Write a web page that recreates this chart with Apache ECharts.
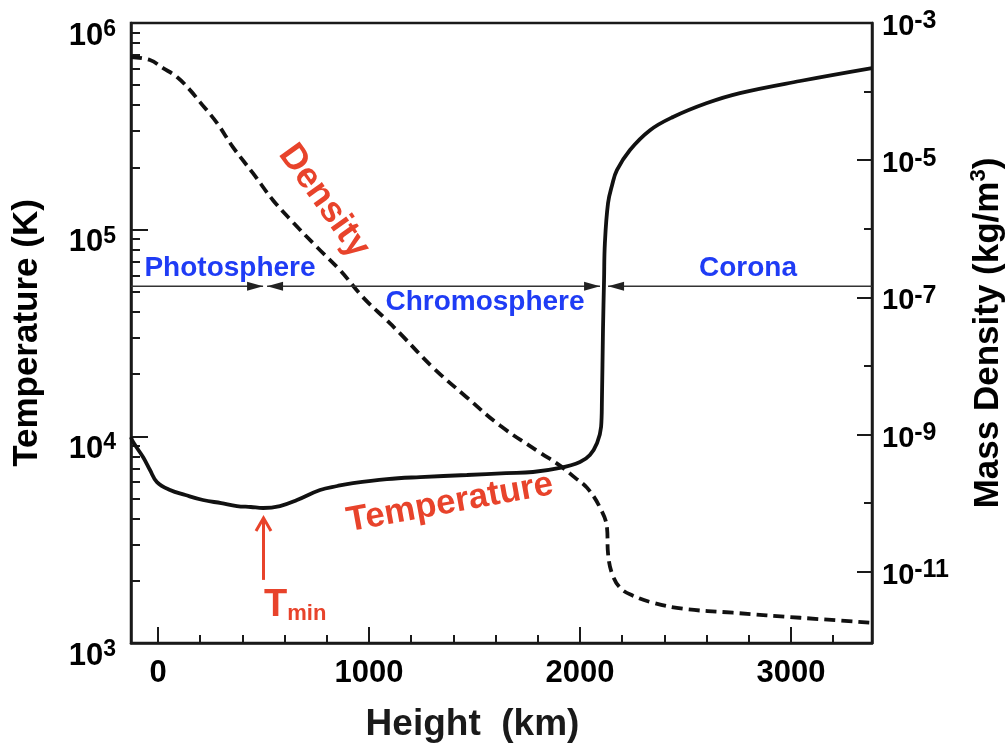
<!DOCTYPE html>
<html><head><meta charset="utf-8">
<script src="https://cdn.jsdelivr.net/npm/echarts@6/dist/echarts.min.js"></script>
<style>html,body{margin:0;padding:0;background:#fff}#c{width:1008px;height:749px}</style>
</head><body><div id="c"></div>
<script>
// ---------------- data ----------------
const heightT = [-128, -118, -71, -38, -5, 57, 130, 213, 300, 374, 440, 498, 578, 659, 768, 850, 924, 1085, 1242, 1464, 1650, 1777, 1905, 2000, 2047, 2081, 2100, 2104, 2109, 2114, 2118, 2133, 2152, 2175, 2237, 2332, 2441, 2602, 2758, 3043, 3384];
const tempK = [9900, 9380, 7940, 6870, 6010, 5500, 5200, 4920, 4750, 4600, 4550, 4500, 4600, 4920, 5500, 5750, 5940, 6210, 6350, 6500, 6640, 6720, 7030, 7520, 8130, 9290, 11100, 15000, 32700, 57000, 86000, 134500, 164000, 194000, 243000, 303000, 351000, 410000, 458000, 524000, 605000];

const heightRho = [-128, -38, 24, 90, 152, 199, 280, 355, 450, 545, 640, 754, 863, 972, 1085, 1147, 1303, 1464, 1621, 1810, 1905, 1976, 2033, 2095, 2128, 2133, 2152, 2190, 2251, 2346, 2488, 2725, 3043, 3384];
const densityRho = [3.19e-4, 2.88e-4, 2.20e-4, 1.63e-4, 1.05e-4, 7.03e-5, 3.47e-5, 1.55e-5, 6.46e-6, 2.61e-6, 1.24e-6, 5.37e-7, 2.48e-7, 1.00e-7, 4.61e-8, 2.98e-8, 9.50e-9, 3.47e-9, 1.35e-9, 5.46e-10, 3.52e-10, 2.35e-10, 1.68e-10, 8.59e-11, 4.39e-11, 1.83e-11, 9.35e-12, 5.83e-12, 4.47e-12, 3.52e-12, 2.88e-12, 2.52e-12, 2.13e-12, 1.80e-12];

const xRange = [-128, 3384];
const xMajorTicks = [0, 1000, 2000, 3000];
const xMinorTicks = [200, 400, 600, 800, 1200, 1400, 1600, 1800, 2200, 2400, 2600, 2800, 3200];
const tempRange = [1e3, 1e6];
const tempMajorTicks = [1e3, 1e4, 1e5, 1e6];
const tempMinorTicks = [2e3, 3e3, 4e3, 5e3, 6e3, 7e3, 8e3, 9e3, 2e4, 3e4, 4e4, 5e4, 6e4, 7e4, 8e4, 9e4, 2e5, 3e5, 4e5, 5e5, 6e5, 7e5, 8e5, 9e5];
const rhoRange = [Math.pow(10, -12.04), 1e-3];
const rhoMajorTicks = [1e-3, 1e-5, 1e-7, 1e-9, 1e-11];
const rhoMinorTicks = [1e-4, 1e-6, 1e-8, 1e-10];

const regionNames = ['Photosphere', 'Chromosphere', 'Corona'];
const regionSegments = [[-128, 498], [517, 2095], [2133, 3384]];   // km
const regionArrowTemp = 5.33e4;                                   // K (level of the arrow line)
const tminHeight = 500;                                            // km
const tminArrowTemp = [2020, 4030];                                // K, arrow tail -> tip

// ---------------- style ----------------
const FONT = "'Liberation Sans', Arial, Helvetica, sans-serif";
const INK = '#1a1a1a';
const RED = '#e8432b';
const BLUE = '#1f3cf5';

function supFmt(v) {
  const e = Math.round(Math.log10(v));
  return '{b|10}{s|' + e + '}';
}

const option = {
  animation: false,
  backgroundColor: '#fff',
  grid: { left: 131, right: 136, top: 23, bottom: 106, show: true, borderColor: INK, borderWidth: 2.5, containLabel: false, outerBoundsMode: 'none' },
  xAxis: [
    {
      type: 'value', min: xRange[0], max: xRange[1], position: 'bottom',
      name: 'Height  (km)', nameLocation: 'middle', nameGap: 63,
      nameTextStyle: { fontFamily: FONT, fontWeight: 'bold', fontSize: 37, color: INK, padding: [0, 58, 0, 0] },
      axisLine: { show: true, onZero: false, lineStyle: { color: INK, width: 2.5 } },
      axisTick: { show: true, inside: true, length: 16, lineStyle: { color: INK, width: 2 }, customValues: xMajorTicks },
      axisLabel: { customValues: xMajorTicks, formatter: v => String(v), margin: 15, fontFamily: FONT, fontWeight: 'bold', fontSize: 31, color: '#000', showMinLabel: true, showMaxLabel: true, hideOverlap: false },
      splitLine: { show: false }
    },
    {
      type: 'value', min: xRange[0], max: xRange[1], position: 'bottom',
      axisLine: { show: false, onZero: false },
      axisTick: { show: true, inside: true, length: 8, lineStyle: { color: INK, width: 2 }, customValues: xMinorTicks },
      axisLabel: { show: false },
      splitLine: { show: false }
    }
  ],
  yAxis: [
    {
      type: 'log', logBase: 10, min: tempRange[0], max: tempRange[1], position: 'left',
      name: 'Temperature (K)', nameLocation: 'middle', nameRotate: 90, nameGap: 86,
      nameTextStyle: { fontFamily: FONT, fontWeight: 'bold', fontSize: 35, color: '#000' },
      axisLine: { show: true, onZero: false, lineStyle: { color: INK, width: 2.5 } },
      axisTick: { show: true, inside: true, length: 17, lineStyle: { color: INK, width: 2 }, customValues: tempMajorTicks },
      axisLabel: {
        customValues: tempMajorTicks, margin: 15, padding: [26, 0, 0, 0],
        formatter: supFmt, showMinLabel: true, showMaxLabel: true, hideOverlap: false,
        rich: {
          b: { fontFamily: FONT, fontWeight: 'bold', fontSize: 31, lineHeight: 36, color: '#000' },
          s: { fontFamily: FONT, fontWeight: 'bold', fontSize: 23, lineHeight: 20, verticalAlign: 'top', color: '#000' }
        }
      },
      splitLine: { show: false }
    },
    {
      type: 'log', logBase: 10, min: rhoRange[0], max: rhoRange[1], position: 'right',
      name: 'Mass Density (kg/m{sup|3})', nameLocation: 'middle', nameRotate: 90, nameGap: 96,
      nameTextStyle: {
        fontFamily: FONT, fontWeight: 'bold', fontSize: 35, color: '#000', lineHeight: 40,
        rich: { sup: { fontFamily: FONT, fontWeight: 'bold', fontSize: 22, lineHeight: 24, verticalAlign: 'top', color: '#000' } }
      },
      axisLine: { show: true, onZero: false, lineStyle: { color: INK, width: 2.5 } },
      axisTick: { show: true, inside: true, length: 15, lineStyle: { color: INK, width: 2 }, customValues: rhoMajorTicks },
      axisLabel: {
        customValues: rhoMajorTicks, margin: 10, padding: [8, 0, 0, 0],
        formatter: supFmt, showMinLabel: true, showMaxLabel: true, hideOverlap: false,
        rich: {
          b: { fontFamily: FONT, fontWeight: 'bold', fontSize: 29, lineHeight: 36, color: '#000' },
          s: { fontFamily: FONT, fontWeight: 'bold', fontSize: 25, lineHeight: 20, verticalAlign: 'top', color: '#000' }
        }
      },
      splitLine: { show: false }
    },
    {
      type: 'log', logBase: 10, min: tempRange[0], max: tempRange[1], position: 'left',
      axisLine: { show: false, onZero: false },
      axisTick: { show: true, inside: true, length: 9, lineStyle: { color: INK, width: 2 }, customValues: tempMinorTicks },
      axisLabel: { show: false },
      splitLine: { show: false }
    },
    {
      type: 'log', logBase: 10, min: rhoRange[0], max: rhoRange[1], position: 'right',
      axisLine: { show: false, onZero: false },
      axisTick: { show: true, inside: true, length: 8, lineStyle: { color: INK, width: 2 }, customValues: rhoMinorTicks },
      axisLabel: { show: false },
      splitLine: { show: false }
    }
  ],
  series: [
    {
      name: 'Temperature', type: 'line', xAxisIndex: 0, yAxisIndex: 0,
      data: heightT.map((h, i) => [h, tempK[i]]),
      showSymbol: false, smooth: 0.4, clip: true,
      lineStyle: { color: '#111', width: 3.8 }, z: 5
    },
    {
      name: 'Density', type: 'line', xAxisIndex: 0, yAxisIndex: 1,
      data: heightRho.map((h, i) => [h, densityRho[i]]),
      showSymbol: false, smooth: 0.4, clip: true,
      lineStyle: { color: '#111', width: 3.8, type: [11, 6] }, z: 4
    }
  ]
};

const chart = echarts.init(document.getElementById('c'), null, { renderer: 'canvas' });
chart.setOption(option);

// ---------------- annotations (positions derived from data via the chart scales) ----------------
const toPx = (h, t) => chart.convertToPixel({ seriesIndex: 0 }, [h, t]);
const g = [];
function arrowHead(tip, dir, color) {
  return { type: 'polygon', silent: true, z: 10,
    shape: { points: [[tip[0], tip[1]], [tip[0] - dir * 16, tip[1] - 4.5], [tip[0] - dir * 16, tip[1] + 4.5]] },
    style: { fill: color } };
}
regionSegments.forEach((seg, i) => {
  const a = toPx(seg[0], regionArrowTemp), b = toPx(seg[1], regionArrowTemp);
  g.push({ type: 'line', silent: true, z: 9, shape: { x1: a[0], y1: a[1], x2: b[0], y2: b[1] }, style: { stroke: '#333', lineWidth: 1.5 } });
  if (i < regionSegments.length - 1) g.push(arrowHead(b, 1, '#222'));
  if (i > 0) g.push(arrowHead(a, -1, '#222'));
});
// T_min arrow
const tail = toPx(tminHeight, tminArrowTemp[0]), tip = toPx(tminHeight, tminArrowTemp[1]);
g.push({ type: 'polyline', silent: true, z: 10, shape: { points: [tail, tip] }, style: { stroke: RED, lineWidth: 3, fill: null } });
g.push({ type: 'polyline', silent: true, z: 10, shape: { points: [[tip[0] - 7.5, tip[1] + 13], tip, [tip[0] + 7.5, tip[1] + 13]] }, style: { stroke: RED, lineWidth: 3, fill: null, lineJoin: 'miter' } });

function label(text, x, y, size, color, rot) {
  return { type: 'text', silent: true, z: 11, x: x, y: y, rotation: rot || 0,
    style: { text: text, x: 0, y: 0, fill: color, font: 'bold ' + size + 'px ' + FONT,
      textAlign: 'center', textVerticalAlign: 'middle', align: 'center', verticalAlign: 'middle' } };
}
g.push(label(regionNames[0], 230, 268, 28, BLUE));
g.push(label(regionNames[1], 485, 302, 28, BLUE));
g.push(label(regionNames[2], 748, 268, 28, BLUE));
g.push(label('Density', 324, 201, 36, RED, -0.95));
g.push(label('Temperature', 450, 503, 35, RED, 0.18));
g.push({ type: 'text', silent: true, z: 11, x: 264, y: 606,
  style: { text: '{t|T}{s|min}', x: 0, y: 0, fill: RED, textAlign: 'left', textVerticalAlign: 'middle', align: 'left', verticalAlign: 'middle',
    rich: {
      t: { fontFamily: FONT, fontWeight: 'bold', fontSize: 38, lineHeight: 38, fill: RED, color: RED },
      s: { fontFamily: FONT, fontWeight: 'bold', fontSize: 22, lineHeight: 22, verticalAlign: 'bottom', fill: RED, color: RED }
    } } });
chart.setOption({ graphic: g });
</script>
</body></html>
